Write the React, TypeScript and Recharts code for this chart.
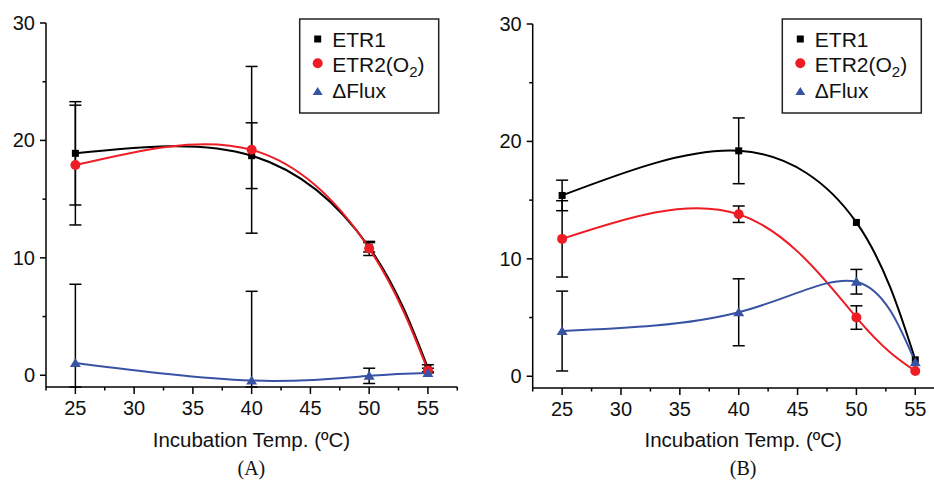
import React from "react";
import { LineChart, Line, XAxis, YAxis, ErrorBar } from "recharts";

// incubation temperatures (ºC)
const temps = [25, 40, 50, 55];

// panel A
const etr1A = [18.9, 18.7, 10.9, 0.6];
const etr1AErr = [4.4, 2.8, 0.4, 0.3];
const etr2A = [17.9, 19.2, 10.8, 0.4];
const etr2AErr = [5.1, 7.1, 0.6, 0.2];
const fluxA = [1.05, -0.45, -0.05, 0.2];
const fluxAErr = [6.7, 7.6, 0.65, null];

// panel B
const etr1B = [15.4, 19.2, 13.1, 1.4];
const etr1BErr = [1.3, 2.8, null, null];
const etr2B = [11.7, 13.8, 5.0, 0.45];
const etr2BErr = [3.25, 0.7, 1.0, null];
const fluxB = [3.85, 5.45, 8.05, 1.2];
const fluxBErr = [3.4, 2.85, 1.05, null];

const xTicks = [22.5, 25, 27.5, 30, 32.5, 35, 37.5, 40, 42.5, 45, 47.5, 50, 52.5, 55, 57.5];
const yTicks = [0, 5, 10, 15, 20, 25, 30];
const Y_MIN = -1;

const RED = "#ee1c24";
const BLUE = "#3953a4";
const FONT = "'Liberation Sans', Arial, sans-serif";

// error bars are cut off by the x axis, like the original plot
const err = (v: number, e: number | null) => (e == null ? null : [Math.min(e, v - Y_MIN), e]);

const build = (e1: number[], e1e: any[], e2: number[], e2e: any[], f: number[], fe: any[]) =>
  temps.map((t, i) => ({
    t,
    etr1: e1[i],
    etr1Err: err(e1[i], e1e[i]),
    etr2: e2[i],
    etr2Err: err(e2[i], e2e[i]),
    flux: f[i],
    fluxErr: err(f[i], fe[i]),
  }));

const dataA = build(etr1A, etr1AErr, etr2A, etr2AErr, fluxA, fluxAErr);
const dataB = build(etr1B, etr1BErr, etr2B, etr2BErr, fluxB, fluxBErr);

const XTick = (props: any) => {
  const { x, y, payload } = props;
  const major = payload.value % 5 === 0;
  return (
    <g>
      <line x1={x} x2={x} y1={y} y2={y + (major ? 7 : 3.5)} stroke="#000" strokeWidth={1.5} />
      {major && (
        <text x={x} y={y + 28} textAnchor="middle" fontSize={20} fontFamily={FONT} fill="#111">
          {payload.value}
        </text>
      )}
    </g>
  );
};

const YTick = (props: any) => {
  const { x, y, payload } = props;
  const major = payload.value % 10 === 0;
  return (
    <g>
      <line x1={x} x2={x - (major ? 6 : 3.5)} y1={y} y2={y} stroke="#000" strokeWidth={1.5} />
      {major && (
        <text x={x - 11} y={y + 7} textAnchor="end" fontSize={20} fontFamily={FONT} fill="#111">
          {payload.value}
        </text>
      )}
    </g>
  );
};

const squareDot = (p: any) => (
  <rect key={`sq-${p.index}`} x={p.cx - 3.5} y={p.cy - 3.5} width={7} height={7} fill="#000" />
);
const circleDot = (p: any) => <circle key={`ci-${p.index}`} cx={p.cx} cy={p.cy} r={5} fill={RED} />;
const triDot = (p: any) => (
  <path
    key={`tr-${p.index}`}
    d={`M${p.cx},${p.cy - 5} L${p.cx + 5.5},${p.cy + 4} L${p.cx - 5.5},${p.cy + 4} Z`}
    fill={BLUE}
  />
);

const Panel = ({ data, width, margin, yWidth }: any) => (
  <LineChart width={width} height={480} data={data} margin={margin}>
    <XAxis
      dataKey="t"
      type="number"
      domain={[22.5, 57.5]}
      ticks={xTicks}
      interval={0}
      height={30}
      axisLine={{ stroke: "#000", strokeWidth: 1.5 }}
      tickLine={false}
      tickSize={0}
      tickMargin={0}
      tick={<XTick />}
      allowDataOverflow
    />
    <YAxis
      type="number"
      domain={[Y_MIN, 30]}
      ticks={yTicks}
      interval={0}
      width={yWidth}
      axisLine={{ stroke: "#000", strokeWidth: 1.5 }}
      tickLine={false}
      tickSize={0}
      tickMargin={0}
      tick={<YTick />}
      allowDataOverflow
    />
    <Line dataKey="etr1" type="natural" stroke="#000" strokeWidth={2} dot={squareDot} isAnimationActive={false}>
      <ErrorBar dataKey="etr1Err" direction="y" width={6} stroke="#000" strokeWidth={1.5} />
    </Line>
    <Line dataKey="etr2" type="natural" stroke={RED} strokeWidth={2} dot={circleDot} isAnimationActive={false}>
      <ErrorBar dataKey="etr2Err" direction="y" width={6} stroke="#000" strokeWidth={1.5} />
    </Line>
    <Line dataKey="flux" type="natural" stroke={BLUE} strokeWidth={2} dot={triDot} isAnimationActive={false}>
      <ErrorBar dataKey="fluxErr" direction="y" width={6} stroke="#000" strokeWidth={1.5} />
    </Line>
  </LineChart>
);

const LegendBox = ({ x }: { x: number }) => (
  <g fontFamily={FONT} fontSize={21} fill="#111">
    <rect x={x} y={19} width={139} height={94} fill="#fff" stroke="#222" strokeWidth={1.5} />
    <rect x={x + 14.5} y={35.5} width={7} height={7} fill="#000" />
    <text x={x + 32.5} y={46.7}>ETR1</text>
    <circle cx={x + 18} cy={63.3} r={5} fill={RED} />
    <text x={x + 32.5} y={71.7}>
      ETR2(O
      <tspan fontSize={15} dy={5}>
        2
      </tspan>
      <tspan dy={-5}>)</tspan>
    </text>
    <path d={`M${x + 18},${87} L${x + 23},${95} L${x + 13},${95} Z`} fill={BLUE} />
    <text x={x + 32.5} y={98.3}>ΔFlux</text>
  </g>
);

const App = () => (
  <div
    style={{
      position: "fixed",
      left: 0,
      top: 0,
      width: 934,
      height: 480,
      overflow: "hidden",
      background: "#fff",
    }}
  >
    <div style={{ position: "absolute", left: 0, top: 0 }}>
      <Panel data={dataA} width={470} yWidth={46} margin={{ top: 23, right: 12.7, bottom: 63, left: 0 }} />
    </div>
    <div style={{ position: "absolute", left: 470, top: 0 }}>
      <Panel data={dataB} width={480} yWidth={62.7} margin={{ top: 24, right: 5.3, bottom: 62, left: 0 }} />
    </div>
    <svg width={934} height={480} style={{ position: "absolute", left: 0, top: 0, pointerEvents: "none" }}>
      <LegendBox x={299.7} />
      <LegendBox x={782.3} />
      <text x={251.4} y={446.7} textAnchor="middle" fontFamily={FONT} fontSize={20.5} fill="#111">
        Incubation Temp. (ºC)
      </text>
      <text x={743.2} y={446.7} textAnchor="middle" fontFamily={FONT} fontSize={20.5} fill="#111">
        Incubation Temp. (ºC)
      </text>
      <text x={251.4} y={475} textAnchor="middle" fontFamily="'Liberation Serif', 'Times New Roman', serif" fontSize={20} fill="#111">
        (A)
      </text>
      <text x={743.2} y={475} textAnchor="middle" fontFamily="'Liberation Serif', 'Times New Roman', serif" fontSize={20} fill="#111">
        (B)
      </text>
    </svg>
  </div>
);

export default App;
